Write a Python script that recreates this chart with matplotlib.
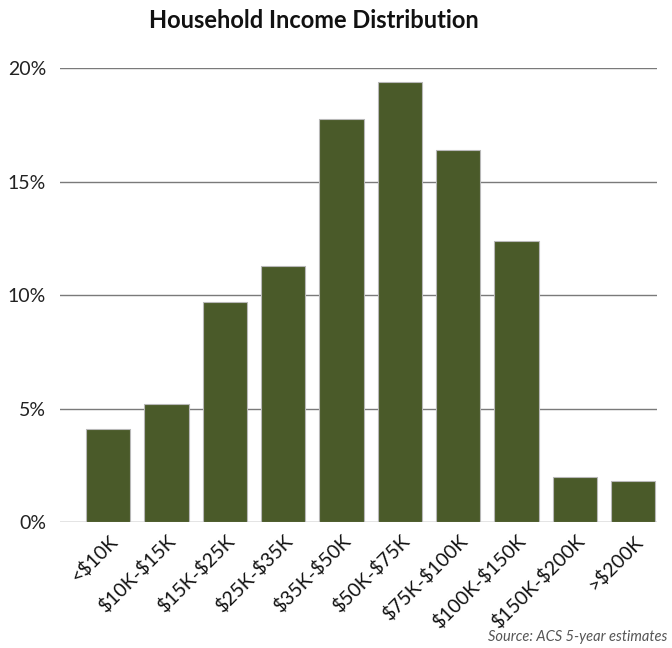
import matplotlib.pyplot as plt
import numpy as np

categories = ['<$10K', '$10K-$15K', '$15K-$25K', '$25K-$35K', '$35K-$50K',
              '$50K-$75K', '$75K-$100K', '$100K-$150K', '$150K-$200K', '>$200K']
shares = [4.1, 5.2, 9.7, 11.3, 17.75, 19.4, 16.4, 12.4, 2.0, 1.8]
yticks = [0, 5, 10, 15, 20]

plt.rcParams['font.family'] = ['Lato', 'DejaVu Sans']
plt.rcParams['text.parse_math'] = False

fig = plt.figure(figsize=(6.72, 6.48), dpi=100)
ax = fig.add_axes([0.089, 0.194, 0.889, 0.701])

x = np.arange(len(categories))
ax.bar(x, shares, width=0.76, color='#4a5a29', edgecolor='#b8b8b8', linewidth=0.8, zorder=3)

ax.set_xlim(-0.83, 9.41)
ax.set_ylim(0, 20)
ax.set_yticks(yticks)
ax.set_yticklabels([f'{v}%' for v in yticks], fontsize=14, color='#222222')
ax.yaxis.grid(True, color='#7a7a7a', linewidth=1.0, zorder=0)
ax.set_axisbelow(True)
ax.tick_params(axis='y', length=0, pad=10)
ax.tick_params(axis='x', length=0, pad=7)
ax.set_xticks(x)
ax.set_xticklabels(categories, rotation=45, ha='right', rotation_mode='anchor',
                   fontsize=14, color='#111111')
for s in ax.spines.values():
    s.set_visible(False)

fig.text(0.467, 0.968, 'Household Income Distribution', ha='center', va='center',
         fontsize=17, fontweight='bold', color='#111111')
fig.text(0.993, 0.006, 'Source: ACS 5-year estimates', ha='right', va='bottom',
         fontsize=10.5, style='italic', color='#555555')

plt.savefig('out.png', dpi=100)
